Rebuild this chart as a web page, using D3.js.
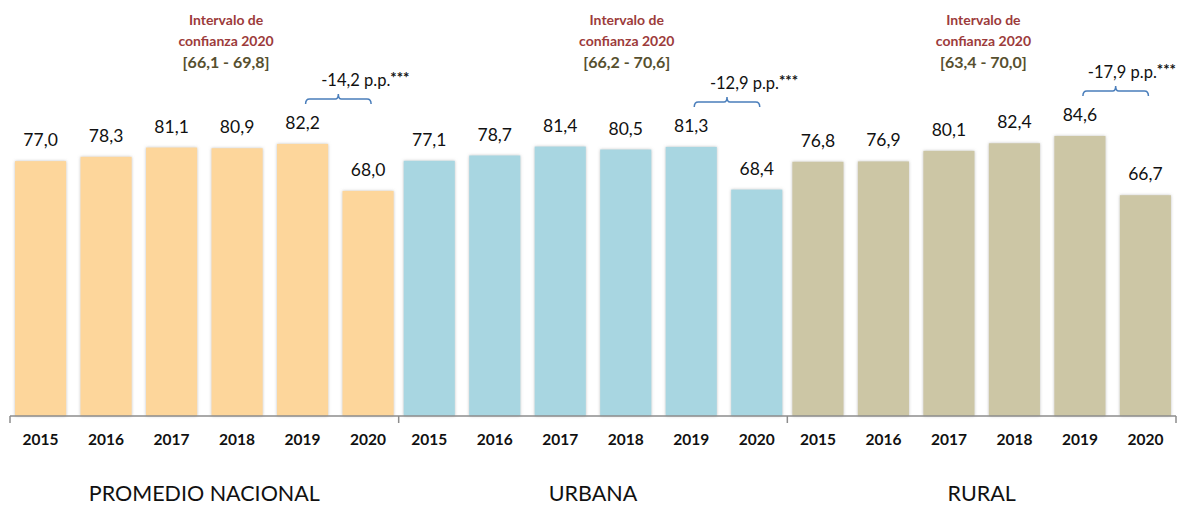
<!DOCTYPE html>
<html>
  <head>
    <meta charset="utf-8">
    <script src="https://d3js.org/d3.v7.min.js"></script>
    <style>
      body { margin: 0; background-color: white; }
      text { font-family: Lato, "Open Sans", sans-serif; }
    </style>
  </head>
  <body>
    <svg id="canvas" width="1177" height="507"></svg>
    <script>
      // data
      const groups = ['PROMEDIO NACIONAL', 'URBANA', 'RURAL']
      const years = ['2015', '2016', '2017', '2018', '2019', '2020']
      const nacional = [77.0, 78.3, 81.1, 80.9, 82.2, 68.0]
      const urbana = [77.1, 78.7, 81.4, 80.5, 81.3, 68.4]
      const rural = [76.8, 76.9, 80.1, 82.4, 84.6, 66.7]
      const intervals = ['[66,1 - 69,8]', '[66,2 - 70,6]', '[63,4 - 70,0]']
      const changes = ['-14,2', '-12,9', '-17,9']
      const colors = ['#FDD69B', '#A8D6E1', '#CCC6A5']

      const series = [nacional, urbana, rural]
      // horizontal nudge of the interval notes, relative to the 2018 bar
      const noteDx = [-11, 1, -31]

      const svg = d3.select('#canvas')
      const W = 1177
      const baseY = 416

      const x0 = d3.scaleBand().domain(groups).range([10, 1176])
      const x1 = d3.scaleBand().domain(years).range([0, x0.bandwidth()])
        .paddingInner(0.22).paddingOuter(0.077)
      const y = d3.scaleLinear().domain([0, 100]).range([baseY, baseY - 331])

      const fmt = v => d3.format('.1f')(v).replace('.', ',')

      // soft grey glow round the bars
      const defs = svg.append('defs')
      defs.append('filter').attr('id', 'glow')
        .attr('x', '-20%').attr('y', '-20%').attr('width', '140%').attr('height', '140%')
        .append('feDropShadow')
          .attr('dx', 0).attr('dy', 0)
          .attr('stdDeviation', 1.6)
          .attr('flood-color', '#8a8a8a')
          .attr('flood-opacity', 0.55)

      const gs = svg.selectAll('g.group')
        .data(groups.map((name, i) => ({ name, i, values: series[i] })))
        .enter().append('g')
          .attr('class', 'group')
          .attr('transform', d => `translate(${x0(d.name)},0)`)

      // bars
      gs.selectAll('rect')
        .data(d => d.values.map((v, j) => ({ v, year: years[j], gi: d.i })))
        .enter().append('rect')
          .attr('x', d => x1(d.year))
          .attr('y', d => y(d.v))
          .attr('width', x1.bandwidth())
          .attr('height', d => baseY - y(d.v))
          .attr('fill', d => colors[d.gi])
          .attr('filter', 'url(#glow)')

      // value labels
      gs.selectAll('text.val')
        .data(d => d.values.map((v, j) => ({ v, year: years[j] })))
        .enter().append('text')
          .attr('class', 'val')
          .attr('x', d => x1(d.year) + x1.bandwidth() / 2)
          .attr('y', d => y(d.v) - 15)
          .attr('text-anchor', 'middle')
          .attr('font-size', '17.5px')
          .attr('fill', '#111')
          .text(d => fmt(d.v))

      // year labels
      gs.selectAll('text.year')
        .data(years)
        .enter().append('text')
          .attr('class', 'year')
          .attr('x', d => x1(d) + x1.bandwidth() / 2)
          .attr('y', 445)
          .attr('text-anchor', 'middle')
          .attr('font-size', '15.5px')
          .attr('font-weight', 'bold')
          .attr('fill', '#111')
          .text(d => d)

      // group labels
      gs.append('text')
        .attr('x', x0.bandwidth() / 2)
        .attr('y', 501)
        .attr('text-anchor', 'middle')
        .attr('font-size', '21.5px')
        .attr('fill', '#111')
        .text(d => d.name)

      // axis line with ticks between groups
      const axis = svg.append('g')
      axis.append('line')
        .attr('x1', 10).attr('x2', 1176)
        .attr('y1', baseY).attr('y2', baseY)
        .attr('stroke', '#8c8c8c').attr('stroke-width', 1.5)
      axis.selectAll('line.tick')
        .data(groups.map(g => x0(g)).concat([x0(groups[2]) + x0.bandwidth()]))
        .enter().append('line')
          .attr('class', 'tick')
          .attr('x1', d => d).attr('x2', d => d)
          .attr('y1', baseY).attr('y2', baseY + 7)
          .attr('stroke', '#8c8c8c').attr('stroke-width', 1.5)

      // confidence interval notes
      gs.each(function (d) {
        const g = d3.select(this)
        const gx = x0(d.name)
        const cx = x1('2018') + x1.bandwidth() / 2 + noteDx[d.i]
        g.append('text')
          .attr('x', cx).attr('y', 25)
          .attr('text-anchor', 'middle')
          .attr('font-size', '14px').attr('font-weight', 'bold')
          .attr('fill', '#9C3B3B')
          .text('Intervalo de')
        g.append('text')
          .attr('x', cx).attr('y', 46)
          .attr('text-anchor', 'middle')
          .attr('font-size', '14px').attr('font-weight', 'bold')
          .attr('fill', '#9C3B3B')
          .text('confianza 2020')
        g.append('text')
          .attr('x', cx).attr('y', 68)
          .attr('text-anchor', 'middle')
          .attr('font-size', '16px').attr('font-weight', 'bold')
          .attr('fill', '#57502F')
          .text(intervals[d.i])

        // brace between 2019 and 2020
        const xa = x1('2019') + x1.bandwidth() / 2 + 3
        const xb = x1('2020') + x1.bandwidth() / 2 + 3
        const by = y(d.values[4]) - 45
        const xm = (xa + xb) / 2
        const path = d3.path()
        path.moveTo(xa, by + 5)
        path.quadraticCurveTo(xa, by, xa + 4, by)
        path.lineTo(xm - 3, by)
        path.quadraticCurveTo(xm, by, xm, by - 5)
        path.quadraticCurveTo(xm, by, xm + 3, by)
        path.lineTo(xb - 4, by)
        path.quadraticCurveTo(xb, by, xb, by + 5)
        g.append('path')
          .attr('d', path.toString())
          .attr('fill', 'none')
          .attr('stroke', '#4A7EBB')
          .attr('stroke-width', 1.5)

        const t = g.append('text')
          .attr('x', xm + 27).attr('y', by - 13)
          .attr('text-anchor', 'middle')
          .attr('font-size', '16.5px')
          .attr('fill', '#111')
        t.append('tspan').text(changes[d.i] + ' p.p.')
        t.append('tspan')
          .attr('font-weight', 'bold')
          .attr('font-size', '15px')
          .attr('dy', -3)
          .text('***')
        // keep the note inside the picture
        const bb = t.node().getBBox()
        const over = gx + bb.x + bb.width - (W - 1)
        if (over > 0) t.attr('x', xm + 27 - over)
      })
    </script>
  </body>
</html>
